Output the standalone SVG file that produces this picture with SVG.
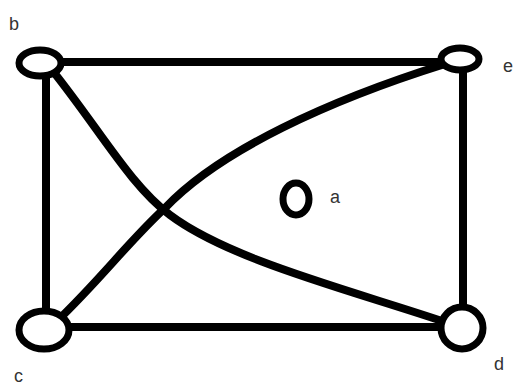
<svg xmlns="http://www.w3.org/2000/svg" width="515" height="385" viewBox="0 0 515 385">
<style>
.e{fill:none;stroke:#000;stroke-width:8;stroke-linecap:round;stroke-linejoin:round}
.n{fill:#fff;stroke:#000;stroke-width:7}
.t{font-family:"Liberation Sans",Arial,sans-serif;font-size:18px;fill:#333}
</style>
<rect width="515" height="385" fill="#fff"/>
<g id="connectors">
<path class="e" d="M60 62 L440 62"/>
<path class="e" d="M46 74 L46 312"/>
<path class="e" d="M463 72 L463 305"/>
<path class="e" d="M70 327 L440 327"/>
<path class="e" d="M52 70 C100 130 130 185 170 215 C230 260 350 290 445 322"/>
<path class="e" d="M56 322 C100 280 130 240 165 208 C220 150 330 100 445 64"/>
</g>
<g id="b"><ellipse class="n" cx="40" cy="63" rx="21" ry="13"/><text class="t" x="9" y="30">b</text></g>
<g id="e"><ellipse class="n" cx="460" cy="59" rx="19" ry="11"/><text class="t" x="503" y="72">e</text></g>
<g id="c"><ellipse class="n" cx="44" cy="330" rx="25" ry="19"/><text class="t" x="14" y="382">c</text></g>
<g id="d"><ellipse class="n" cx="462" cy="328" rx="21" ry="21"/><text class="t" x="494" y="370">d</text></g>
<g id="a"><ellipse class="n" cx="296" cy="199" rx="13" ry="16" stroke-width="9"/><text class="t" x="330" y="203">a</text></g>
</svg>
